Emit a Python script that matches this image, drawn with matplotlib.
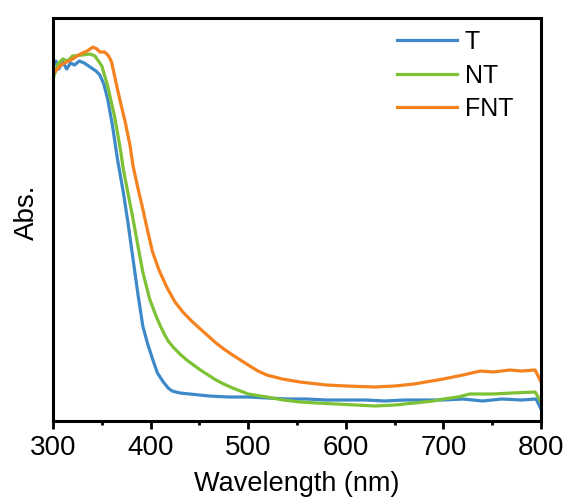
import numpy as np
import matplotlib.pyplot as plt
from matplotlib.ticker import MultipleLocator

plt.rcParams['font.family'] = ['Liberation Sans', 'DejaVu Sans']

# Wellenlaengen und Absorption (willkuerliche Einheiten)
wl_t = [300, 303, 306, 310, 314, 318, 322, 327, 332, 338, 344, 348, 352, 356, 361,
        366, 372, 377, 382, 387, 392, 397, 402, 407, 413, 418, 422, 430, 440, 460,
        480, 500, 520, 540, 560, 580, 600, 620, 640, 660, 680, 700, 720, 740, 760,
        780, 795, 800]
abs_t = [354, 360, 352, 359, 352, 358, 356, 360, 358, 354, 350, 346, 337, 322, 295,
         262, 229, 197, 162, 127, 95, 77, 62, 48, 39, 33, 30, 28, 27, 25,
         24, 24, 23, 22, 22, 21, 21, 21, 20, 21, 21, 21, 22, 20, 22,
         21, 22, 12]

wl_nt = [300, 305, 310, 315, 320, 330, 338, 343, 350, 356, 363, 369, 372, 377, 382,
         387, 392, 399, 406, 410, 414, 418, 423, 430, 437, 444, 451, 459, 467, 475,
         484, 492, 500, 519, 536, 553, 570, 590, 610, 630, 650, 670, 690, 700, 715,
         727, 750, 770, 794, 800]
abs_nt = [342, 357, 362, 360, 365, 366, 367, 365, 355, 335, 305, 272, 252, 227, 202,
          175, 149, 122, 104, 95, 87, 80, 74, 67, 61, 56, 51, 46, 41, 37,
          33, 30, 27, 24, 21, 19, 18, 17, 16, 15, 16, 18, 20, 22, 24,
          27, 27, 28, 29, 19]

wl_fnt = [300, 302, 308, 314, 320, 328, 335, 341, 345, 348, 353, 357, 360, 366, 370,
          374, 379, 382, 387, 392, 397, 402, 409, 417, 425, 433, 442, 451, 459, 467,
          475, 484, 492, 500, 510, 519, 535, 553, 580, 600, 630, 650, 670, 700, 720,
          738, 751, 768, 780, 794, 800]
abs_fnt = [352, 349, 356, 359, 362, 367, 370, 374, 372, 369, 369, 365, 359, 332, 315,
           299, 275, 255, 233, 212, 190, 169, 150, 133, 119, 109, 100, 92, 85, 78,
           72, 66, 61, 56, 50, 46, 42, 39, 36, 35, 34, 35, 37, 42, 46,
           50, 49, 51, 50, 51, 39]

fig = plt.figure(figsize=(5.69, 5.01), dpi=100)
ax = fig.add_axes([53 / 569, 1 - 421 / 501, 488 / 569, 403 / 501])

ax.plot(wl_t, abs_t, color='#3d89c9', lw=2.3, label='T')
ax.plot(wl_nt, abs_nt, color='#7dc234', lw=2.3, label='NT')
ax.plot(wl_fnt, abs_fnt, color='#f5821f', lw=2.3, label='FNT')

ax.set_xlim(300, 800)
ax.set_ylim(0, 403)
ax.xaxis.set_major_locator(MultipleLocator(100))
ax.xaxis.set_minor_locator(MultipleLocator(50))
ax.set_yticks([])
ax.tick_params(axis='x', which='major', direction='out', length=6, width=2,
               labelsize=20, pad=4)
ax.tick_params(axis='x', which='minor', direction='out', length=3, width=2)
for s in ax.spines.values():
    s.set_linewidth(2.2)

ax.set_xlabel('Wavelength (nm)', fontsize=19.5, labelpad=7)
ax.set_ylabel('Abs.', fontsize=20)
ax.yaxis.set_label_coords(-0.027, 0.519)

ax.legend(loc='upper left', bbox_to_anchor=(0.705, 0.97), frameon=False,
          fontsize=18, handlelength=2.4, handletextpad=0.3, labelspacing=0.38,
          borderpad=0, borderaxespad=0)

fig.savefig('out.png', dpi=100)
